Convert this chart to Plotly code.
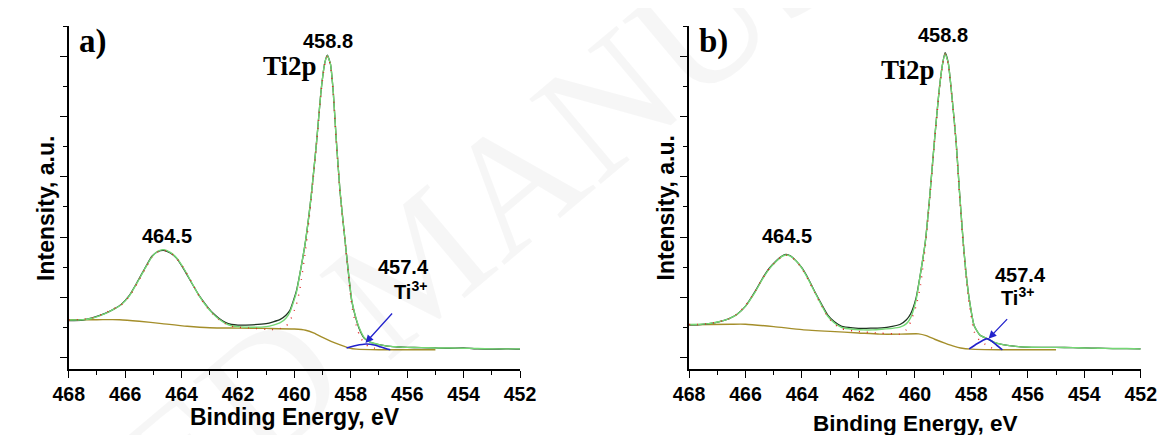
import plotly.graph_objects as go

W, H = 1168, 435

# ---------------- Panel a) data (binding energy eV, intensity a.u.) ----------------
E_A = [468.0, 467.5, 467.17, 466.71, 466.4, 466.14, 465.85, 465.56, 465.3, 465.05,
       464.85, 464.64, 464.4, 464.18, 463.9, 463.61, 463.38, 463.15, 462.9, 462.69,
       462.45, 462.23, 462.0, 461.5, 461.0, 460.75, 460.5, 460.3, 460.16, 459.93,
       459.8, 459.6, 459.4, 459.21, 459.05, 458.92, 458.83, 458.72, 458.62, 458.52,
       458.38, 458.2, 458.1, 457.97, 457.85, 457.7, 457.52, 457.3, 457.0, 456.7,
       456.4, 456.0, 455.5, 455.0, 454.5, 454.0, 453.5, 453.0, 452.5, 452.0]
MEAS_A = [1.22, 1.24, 1.31, 1.46, 1.60, 1.76, 2.06, 2.52, 2.96, 3.36,
          3.51, 3.56, 3.47, 3.30, 2.90, 2.42, 2.06, 1.76, 1.48, 1.31,
          1.16, 1.09, 1.07, 1.08, 1.12, 1.18, 1.26, 1.40, 1.56, 2.20,
          2.80, 3.90, 5.40, 7.20, 8.90, 9.80, 10.05, 9.75, 8.80, 7.30,
          5.50, 3.85, 2.95, 1.90, 1.40, 0.95, 0.63, 0.50, 0.42, 0.37,
          0.35, 0.33, 0.32, 0.31, 0.30, 0.31, 0.28, 0.27, 0.28, 0.27]
FIT_A = [1.24, 1.25, 1.30, 1.45, 1.60, 1.75, 2.04, 2.50, 2.95, 3.34,
         3.52, 3.58, 3.49, 3.31, 2.92, 2.43, 2.05, 1.74, 1.46, 1.28,
         1.13, 1.05, 1.02, 1.00, 1.02, 1.07, 1.15, 1.30, 1.50, 2.15,
         2.80, 3.90, 5.40, 7.20, 8.90, 9.80, 10.03, 9.75, 8.80, 7.30,
         5.50, 3.85, 2.95, 1.92, 1.42, 0.98, 0.65, 0.50, 0.42, 0.37,
         0.35, 0.33, 0.32, 0.31, 0.31, 0.30, 0.29, 0.28, 0.28, 0.28]
E_RED_A = [468.0, 467.5, 467.17, 466.71, 466.4, 466.14, 465.85, 465.56, 465.3, 465.05,
           464.85, 464.64, 464.4, 464.18, 463.9, 463.61, 463.38, 463.15, 462.9, 462.69,
           462.45, 462.23, 462.0, 461.5, 461.0, 460.75, 460.5, 460.3, 460.16, 459.93,
           459.8, 459.6, 459.4, 459.21, 459.05, 458.92, 458.83, 458.72, 458.62, 458.52,
           458.38, 458.2, 458.1, 457.97, 457.85, 457.7, 457.52, 457.3, 457.0]
RED_A = [1.24, 1.26, 1.31, 1.47, 1.62, 1.74, 2.02, 2.48, 2.93, 3.33,
         3.50, 3.56, 3.48, 3.30, 2.93, 2.44, 2.04, 1.72, 1.44, 1.26,
         1.12, 1.03, 1.00, 0.97, 0.93, 0.92, 0.96, 1.03, 1.20, 1.75,
         2.30, 3.60, 5.30, 7.15, 8.85, 9.78, 10.02, 9.70, 8.75, 7.25,
         5.45, 3.80, 2.90, 1.75, 1.20, 0.75, 0.45, 0.33, 0.28]
E_BG_A = [468.0, 467.0, 466.2, 465.5, 464.7, 463.8, 463.0, 462.0, 461.0, 460.0,
          459.6, 459.3, 459.0, 458.7, 458.4, 458.06, 457.8, 457.0, 456.0, 455.0]
BG_A = [1.25, 1.25, 1.25, 1.20, 1.12, 1.03, 0.98, 0.97, 0.96, 0.94,
        0.90, 0.80, 0.66, 0.53, 0.42, 0.31, 0.27, 0.25, 0.25, 0.25]
E_TI3_A = [458.15, 457.81, 457.46, 457.17, 457.0, 456.77, 456.6]
TI3_A = [0.31, 0.39, 0.44, 0.41, 0.36, 0.29, 0.25]

# ---------------- Panel b) data ----------------
E_B = [468.0, 467.72, 467.3, 466.95, 466.6, 466.31, 466.0, 465.66, 465.4, 465.15,
       464.9, 464.72, 464.57, 464.4, 464.2, 464.0, 463.78, 463.55, 463.3, 463.1,
       462.85, 462.59, 462.2, 461.82, 461.5, 461.17, 460.8, 460.53, 460.3, 460.15,
       459.96, 459.8, 459.63, 459.47, 459.31, 459.15, 459.03, 458.93, 458.82, 458.68,
       458.54, 458.42, 458.29, 458.2, 458.08, 457.9, 457.7, 457.45, 457.2, 456.88,
       456.5, 456.08, 455.5, 455.0, 454.4, 454.0, 453.5, 453.0, 452.5, 452.0]
MEAS_B = [1.08, 1.08, 1.12, 1.18, 1.28, 1.42, 1.70, 2.19, 2.62, 2.97,
          3.22, 3.36, 3.42, 3.37, 3.20, 2.97, 2.62, 2.19, 1.75, 1.42,
          1.18, 1.03, 0.98, 0.96, 0.97, 0.98, 1.03, 1.09, 1.25, 1.45,
          1.97, 2.80, 3.85, 5.40, 7.18, 8.80, 9.70, 10.13, 9.80, 8.60,
          7.18, 5.50, 3.85, 2.90, 1.97, 1.05, 0.74, 0.62, 0.50, 0.42,
          0.37, 0.34, 0.33, 0.33, 0.32, 0.31, 0.30, 0.29, 0.29, 0.28]
FIT_B = [1.09, 1.09, 1.12, 1.18, 1.28, 1.42, 1.70, 2.17, 2.60, 2.95,
         3.20, 3.35, 3.40, 3.36, 3.20, 2.96, 2.60, 2.17, 1.72, 1.38,
         1.14, 0.99, 0.93, 0.91, 0.91, 0.93, 0.96, 1.00, 1.12, 1.32,
         1.90, 2.80, 3.85, 5.40, 7.18, 8.80, 9.70, 10.10, 9.80, 8.60,
         7.18, 5.50, 3.85, 2.90, 1.97, 1.05, 0.74, 0.62, 0.50, 0.42,
         0.37, 0.34, 0.33, 0.33, 0.32, 0.31, 0.30, 0.29, 0.29, 0.28]
E_RED_B = [468.0, 467.72, 467.3, 466.95, 466.6, 466.31, 466.0, 465.66, 465.4, 465.15,
           464.9, 464.72, 464.57, 464.4, 464.2, 464.0, 463.78, 463.55, 463.3, 463.1,
           462.85, 462.59, 462.2, 461.82, 461.5, 461.17, 460.8, 460.53, 460.3, 460.15,
           459.96, 459.8, 459.63, 459.47, 459.31, 459.15, 459.03, 458.93, 458.82, 458.68,
           458.54, 458.42, 458.29, 458.2, 458.08, 457.9, 457.7, 457.45, 457.2]
RED_B = [1.09, 1.09, 1.12, 1.18, 1.28, 1.43, 1.72, 2.20, 2.62, 2.96,
         3.20, 3.35, 3.40, 3.36, 3.19, 2.95, 2.58, 2.15, 1.70, 1.36,
         1.10, 0.95, 0.88, 0.84, 0.82, 0.80, 0.78, 0.77, 0.92, 1.18,
         1.70, 2.40, 3.70, 5.30, 7.10, 8.75, 9.65, 10.08, 9.75, 8.55,
         7.10, 5.40, 3.75, 2.80, 1.80, 0.85, 0.55, 0.40, 0.27]
E_BG_B = [468.0, 466.5, 466.0, 465.0, 464.0, 463.0, 462.0, 461.25, 460.5, 459.87,
          459.6, 459.3, 458.94, 458.6, 458.38, 458.0, 457.0, 456.0, 455.0]
BG_B = [1.08, 1.10, 1.10, 1.02, 0.92, 0.86, 0.81, 0.77, 0.77, 0.78,
        0.72, 0.60, 0.47, 0.36, 0.31, 0.27, 0.25, 0.25, 0.25]
E_TI3_B = [458.08, 457.8, 457.6, 457.45, 457.3, 457.1, 456.9]
TI3_B = [0.28, 0.45, 0.56, 0.62, 0.55, 0.40, 0.25]

X_TICKS = [468, 466, 464, 462, 460, 458, 456, 454, 452]

# ---------------- colours ----------------
C_MEAS = "#1e3320"
C_FIT = "#74d874"
C_RED = "#e02828"
C_BG = "#a48e2a"
C_BLUE = "#2222cc"


def px(x):
    return x / W


def py(y):
    return 1 - y / H


fig = go.Figure()


def add_panel(xa, ya, E, meas, fit, Ered, red, Ebg, bg, Eti, ti):
    common = dict(xaxis=xa, yaxis=ya, mode="lines", hoverinfo="skip", showlegend=False)
    fig.add_trace(go.Scatter(x=Ebg, y=bg, line=dict(color=C_BG, width=1.4, shape="spline", smoothing=0.6), **common))
    fig.add_trace(go.Scatter(x=E, y=meas, line=dict(color=C_MEAS, width=1.3, shape="spline", smoothing=0.5), **common))
    fig.add_trace(go.Scatter(x=E, y=fit, line=dict(color=C_FIT, width=1.4, shape="spline", smoothing=0.5), **common))
    fig.add_trace(go.Scatter(x=Eti, y=ti, line=dict(color=C_BLUE, width=1.6, shape="spline", smoothing=0.5), **common))
    fig.add_trace(go.Scatter(x=Ered, y=red, line=dict(color=C_RED, width=1.4, dash="1px,7px", shape="spline", smoothing=0.5), **common))


add_panel("x", "y", E_A, MEAS_A, FIT_A, E_RED_A, RED_A, E_BG_A, BG_A, E_TI3_A, TI3_A)
add_panel("x2", "y2", E_B, MEAS_B, FIT_B, E_RED_B, RED_B, E_BG_B, BG_B, E_TI3_B, TI3_B)

SANS = "Liberation Sans, Arial, sans-serif"
SERIF = "Liberation Serif, Times New Roman, serif"

xcommon = dict(
    range=[468, 452], tickvals=X_TICKS, ticktext=[str(v) for v in X_TICKS],
    showline=True, linecolor="black", linewidth=1.5, mirror=False,
    ticks="outside", ticklen=7, tickwidth=1.4, tickcolor="black",
    minor=dict(dtick=1, tick0=452, ticks="outside", ticklen=4, tickwidth=1.3, tickcolor="black", showgrid=False),
    showgrid=False, zeroline=False,
    tickfont=dict(family=SANS, size=19.5, color="black", weight="bold"),
)
ycommon = dict(
    range=[-0.39, 11.02], tick0=0, dtick=2,
    showline=True, linecolor="black", linewidth=1.5,
    ticks="outside", ticklen=7, tickwidth=1.4, tickcolor="black",
    minor=dict(dtick=1, tick0=0, ticks="outside", ticklen=4, tickwidth=1.3, tickcolor="black", showgrid=False),
    showticklabels=False, showgrid=False, zeroline=False,
)

ydom = [py(361), py(18)]
fig.update_layout(
    width=W, height=H,
    margin=dict(l=0, r=0, t=0, b=0),
    paper_bgcolor="white", plot_bgcolor="white",
    showlegend=False,
    xaxis=dict(domain=[px(46), px(510)], anchor="y", **xcommon),
    yaxis=dict(domain=ydom, anchor="x", **ycommon),
    xaxis2=dict(domain=[px(683.8), px(1148.2)], anchor="y2", **xcommon),
    yaxis2=dict(domain=ydom, anchor="x2", **ycommon),
)


def label(text, x, y, size=20, family=SANS, angle=0, color="black", weight="bold"):
    fig.add_annotation(text=text, x=px(x), y=py(y), xref="paper", yref="paper",
                       showarrow=False, xanchor="center", yanchor="middle", textangle=angle,
                       font=dict(family=family, size=size, color=color, weight=weight))


# faint journal watermark
label("ACCEPTED MANUSCRIPT", 405, 255, size=170, family=SERIF, angle=-40,
      color="rgba(0,0,0,0.035)", weight="normal")

# axis titles
label("Binding Energy, eV", 279, 409, size=23)
label("Binding Energy, eV", 916.5, 415, size=22.5)
label("Intensity, a.u.", 22.5, 200, size=23, angle=-90)
label("Intensity, a.u.", 660.5, 200, size=23, angle=-90)

# panel a labels
label("a)", 71, 33, size=33, family=SERIF)
label("458.8", 312.8, 33, size=20)
label("Ti2p", 273.7, 58, size=27, family=SERIF)
label("464.5", 147, 227.5, size=20)
label("457.4", 390, 259, size=20)
label("Ti<sup>3+</sup>", 397, 282.5, size=20)

# panel b labels
label("b)", 709, 33, size=33, family=SERIF)
label("458.8", 945.3, 27, size=20)
label("Ti2p", 909, 62, size=27, family=SERIF)
label("464.5", 785, 227.5, size=20)
label("457.4", 1025, 266.7, size=20)
label("Ti<sup>3+</sup>", 1021.5, 288, size=20)

# arrows pointing at the Ti3+ component
fig.add_annotation(x=457.48, y=0.475, xref="x", yref="y", ax=28, ay=-31,
                   showarrow=True, arrowhead=2, arrowsize=1.2, arrowwidth=1.3,
                   arrowcolor=C_BLUE, text="")
fig.add_annotation(x=457.39, y=0.62, xref="x2", yref="y2", ax=20, ay=-21,
                   showarrow=True, arrowhead=2, arrowsize=1.2, arrowwidth=1.3,
                   arrowcolor=C_BLUE, text="")

fig.write_html("out.html")
